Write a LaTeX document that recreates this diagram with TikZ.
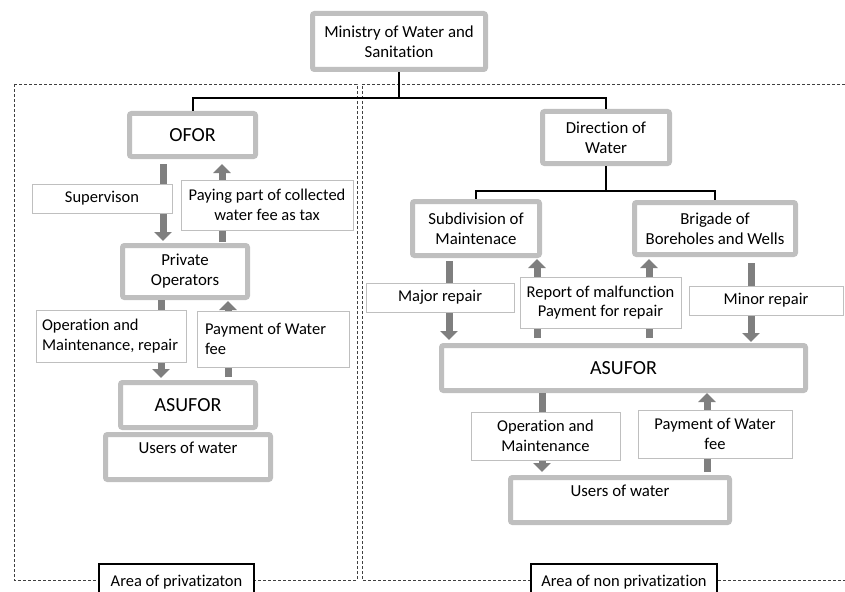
\documentclass[tikz,border=0pt]{standalone}
\usepackage{fontspec}
\setmainfont[Ligatures=NoCommon]{Carlito}
\usepackage{tikz}
\usetikzlibrary{arrows.meta}
\usetikzlibrary{calc}
\definecolor{boxgray}{HTML}{BFBFBF}
\definecolor{flowgray}{HTML}{7F7F7F}
\definecolor{dashgray}{HTML}{404040}
\tikzstyle{unit}=[draw=boxgray, line width=5pt, fill=white, rounded corners=2pt, inner sep=0pt, align=center, font=\fontsize{16.8}{20}\selectfont]
\tikzstyle{note}=[draw=boxgray, line width=0.8pt, fill=white, inner sep=0pt, align=center, font=\fontsize{16.5}{19.5}\selectfont]
\tikzstyle{area}=[draw=black, line width=2.5pt, fill=white, inner sep=0pt, font=\fontsize{16.5}{19.5}\selectfont]
\tikzstyle{tree}=[draw=black, line width=2pt]
\tikzstyle{flow}=[draw=flowgray, line width=7pt, -{Triangle[width=17pt,length=9pt]}]
\tikzstyle{zone}=[draw=dashgray, line width=0.9pt, dash pattern=on 3pt off 2pt]

\begin{document}
\begin{tikzpicture}[x=1pt,y=-1pt]

      \clip (0,0) rectangle (845,591);

      % the two areas
      \draw[zone] (14,84) rectangle (357,580);
      \draw[zone] (850,84) -- (362,84) -- (362,580) -- (850,580);
      \node[area, minimum width=155, minimum height=36] (a1) at (176.5,582) {Area of privatizaton};
      \node[area, minimum width=186, minimum height=36] (a2) at (624,582) {Area of non privatization};

      \node[unit, minimum width=173, minimum height=56] (min) at (399,41.5) {Ministry of Water and\\Sanitation};

      % left side
      \node[unit, minimum width=126, minimum height=43, font=\fontsize{20}{24}\selectfont] (ofor) at (192.5,135) {OFOR};
      \node[unit, minimum width=125, minimum height=52] (priv) at (185,271.5) {Private\\Operators};
      \node[unit, minimum width=135, minimum height=45, font=\fontsize{20}{24}\selectfont] (asu1) at (188,405) {ASUFOR};
      \node[unit, minimum width=165, minimum height=45] (usr1) at (188,457) {Users of water\\[-8pt]\strut};

      % right side
      \node[unit, minimum width=127, minimum height=52] (dir) at (606,137.5) {Direction of\\Water};
      \node[unit, minimum width=127, minimum height=54] (sub) at (476,228.5) {Subdivision of\\Maintenace};
      \node[unit, minimum width=161, minimum height=52] (brig) at (715,228.5) {Brigade of\\Boreholes and Wells};
      \node[unit, minimum width=364, minimum height=45, font=\fontsize{20}{24}\selectfont] (asu2) at (623.5,368) {ASUFOR};
      \node[unit, minimum width=219, minimum height=45] (usr2) at (620,500) {Users of water\\[-8pt]\strut};

      \coordinate (t1) at (399,98);
      \coordinate (t2) at (606,191);

      \draw[tree] (min.south) -- (t1);
      \draw[tree] (ofor.north) |- (t1) -| (dir.north);
      \draw[tree] (dir.south) -- (t2);
      \draw[tree] (sub.north) |- (t2) -| (brig.north);

      \draw[flow] ($(163,0 |- ofor.south)+(0,5)$) -- ($(163,0 |- priv.north)+(0,-2)$);
      \draw[flow] ($(222,0 |- priv.north)+(0,-1)$) -- ($(222,0 |- ofor.south)+(0,5)$);
      \draw[flow] ($(161,0 |- priv.south)+(0,0)$) -- ($(161,0 |- asu1.north)+(0,-2)$);
      \draw[flow] ($(228,0 |- asu1.north)+(0,-3)$) -- ($(228,0 |- priv.south)+(0,1)$);

      \draw[flow] ($(449,0 |- sub.south)+(0,3)$) -- ($(449,0 |- asu2.north)+(0,-3)$);
      \draw[flow] ($(537,0 |- asu2.north)+(0,-5)$) -- ($(537,0 |- sub.south)+(0,1)$);
      \draw[flow] ($(649,0 |- asu2.north)+(0,-5)$) -- ($(649,0 |- brig.south)+(0,2)$);
      \draw[flow] ($(751,0 |- brig.south)+(0,6)$) -- ($(751,0 |- asu2.north)+(0,-1)$);
      \draw[flow] ($(542,0 |- asu2.south)+(0,0)$) -- ($(542,0 |- usr2.north)+(0,-3)$);
      \draw[flow] ($(707,0 |- usr2.north)+(0,-3)$) -- ($(707,0 |- asu2.south)+(0,0)$);

      % labels on the arrows
      \node[note, minimum width=140, minimum height=29] (n1) at (102,198.5) {Supervison};
      \node[note, minimum width=172, minimum height=50] (n2) at (267,205) {Paying part of collected\\water fee as tax};
      \node[note, minimum width=150, minimum height=52, text width=138, align=flush left] (n3) at (111,336) {Operation and\\Maintenance, repair};
      \node[note, minimum width=152, minimum height=56, text width=136, align=flush left] (n4) at (273,339) {Payment of Water\\fee};
      \node[note, minimum width=148, minimum height=29] (n5) at (440,297.5) {Major repair};
      \node[note, minimum width=161, minimum height=51] (n6) at (600.5,302.5) {Report of malfunction\\Payment for repair};
      \node[note, minimum width=154, minimum height=29] (n7) at (766,300.5) {Minor repair};
      \node[note, minimum width=149, minimum height=48] (n8) at (545.5,436) {Operation and\\Maintenance};
      \node[note, minimum width=154, minimum height=48] (n9) at (715,434) {Payment of Water\\fee};

    \end{tikzpicture}
\end{document}
